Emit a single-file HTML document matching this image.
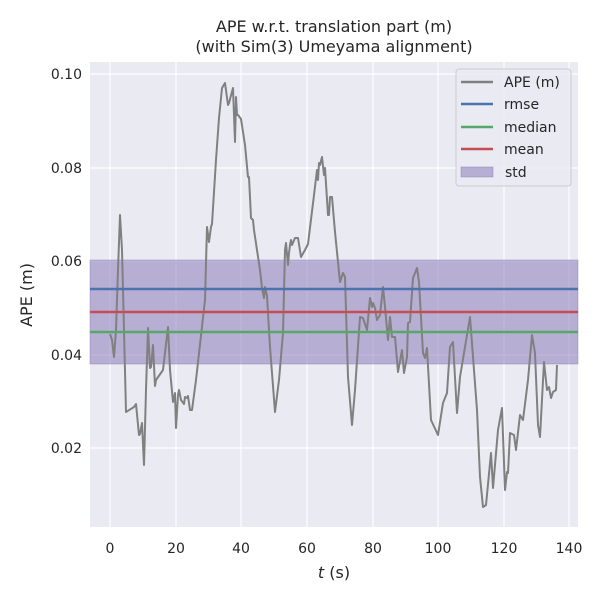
<!DOCTYPE html>
<html><head><style>
body{margin:0;background:#fff;}
svg text{font-family:"DejaVu Sans","Liberation Sans",sans-serif;fill:#262626;}
</style></head><body>
<svg width="600" height="600" viewBox="0 0 600 600" xmlns="http://www.w3.org/2000/svg">
<rect x="90" y="62" width="488" height="465" fill="#eaeaf2"/>
<g stroke="#fff" stroke-width="1.2">
<line x1="110" y1="62" x2="110" y2="527"/><line x1="176" y1="62" x2="176" y2="527"/><line x1="241" y1="62" x2="241" y2="527"/><line x1="307" y1="62" x2="307" y2="527"/><line x1="373" y1="62" x2="373" y2="527"/><line x1="438" y1="62" x2="438" y2="527"/><line x1="504" y1="62" x2="504" y2="527"/><line x1="569" y1="62" x2="569" y2="527"/>
<line x1="90" y1="74" x2="578" y2="74"/><line x1="90" y1="168" x2="578" y2="168"/><line x1="90" y1="261" x2="578" y2="261"/><line x1="90" y1="355" x2="578" y2="355"/><line x1="90" y1="448" x2="578" y2="448"/>
</g>
<rect x="90" y="260" width="488" height="104" fill="#8172b3" fill-opacity="0.5" stroke="#8172b3" stroke-opacity="0.4"/>
<polyline fill="none" stroke="#808080" stroke-width="2" stroke-linejoin="round" points="110,334 112,340 114,357 116,330 118,270 120,215 122,250 124,330 126,412 134,407 136,404 139,435 140,434 142,423 144,465 146,390 148,328 150,368 151,367 153,345 155,386 156,380 163,370 168,327 170,370 173,402 175,393 176,428 178,395 179,390 181,400 184,404 185,397 187,398 188,396 190,410 192,410 196,380 205,300 207,227 209,242 211,227 212,224 216,160 219,118 222,88 225,83 228,105 229,103 233,88 235,142 236,97 237,115 238,115 241,119 245,145 248,177 249,177 251,218 253,220 254,230 260,270 262,288 264,298 265,287 267,296 270,347 275,412 279,380 283,333 285,250 286,243 288,265 289,253 290,245 291,240 292,245 295,238 298,238 301,257 305,250 308,244 314,195 317,170 318,180 319,163 320,165 322,157 323,166 324,175 325,168 328,215 329,215 330,197 332,197 335,232 340,282 343,273 345,277 348,377 352,425 355,390 360,317 363,318 367,330 370,298 372,307 373,303 375,308 377,320 380,315 383,287 385,307 388,340 390,317 392,337 395,337 398,372 402,350 404,373 407,357 408,323 410,322 413,278 417,268 419,282 423,353 425,358 427,348 431,420 438,435 443,403 447,393 450,347 453,342 457,413 460,377 470,317 477,410 480,477 483,507 486,505 491,453 493,488 498,430 502,408 505,490 507,472 508,473 510,433 514,435 516,450 520,415 523,420 528,380 532,335 535,353 538,425 540,437 544,362 547,390 549,387 551,398 553,392 556,390 557,365"/>
<line x1="90" y1="289" x2="578" y2="289" stroke="#4c72b0" stroke-width="2.5"/>
<line x1="90" y1="312" x2="578" y2="312" stroke="#c44e52" stroke-width="2.5"/>
<line x1="90" y1="332" x2="578" y2="332" stroke="#55a868" stroke-width="2.5"/>
<g font-size="14" text-anchor="middle">
<text x="110" y="553">0</text><text x="176" y="553">20</text><text x="241" y="553">40</text><text x="307" y="553">60</text><text x="373" y="553">80</text><text x="438" y="553">100</text><text x="504" y="553">120</text><text x="569" y="553">140</text>
</g>
<g font-size="14" text-anchor="end">
<text x="82" y="79">0.10</text><text x="82" y="173">0.08</text><text x="82" y="266">0.06</text><text x="82" y="360">0.04</text><text x="82" y="453">0.02</text>
</g>
<text x="334" y="578" font-size="16" text-anchor="middle"><tspan font-style="italic">t</tspan> (s)</text>
<text transform="translate(32,295) rotate(-90)" font-size="16" text-anchor="middle">APE (m)</text>
<text x="334" y="32" font-size="16" text-anchor="middle">APE w.r.t. translation part (m)</text>
<text x="334" y="52" font-size="16" text-anchor="middle">(with Sim(3) Umeyama alignment)</text>
<rect x="456" y="69" width="115" height="117" rx="3" fill="#eaeaf2" fill-opacity="0.8" stroke="#cccccc"/>
<g stroke-width="2.5">
<line x1="461" y1="82" x2="493" y2="82" stroke="#808080"/>
<line x1="461" y1="104" x2="493" y2="104" stroke="#4c72b0"/>
<line x1="461" y1="127" x2="493" y2="127" stroke="#55a868"/>
<line x1="461" y1="149" x2="493" y2="149" stroke="#c44e52"/>
</g>
<rect x="461" y="167" width="32" height="10" fill="#8172b3" fill-opacity="0.5" stroke="#8172b3" stroke-opacity="0.4"/>
<g font-size="14">
<text x="504" y="87">APE (m)</text><text x="504" y="109">rmse</text><text x="504" y="132">median</text><text x="504" y="154">mean</text><text x="505" y="177">std</text>
</g>
</svg>
</body></html>
